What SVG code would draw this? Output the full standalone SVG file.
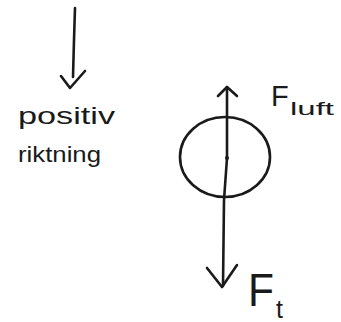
<svg xmlns="http://www.w3.org/2000/svg" width="341" height="322" viewBox="0 0 341 322">
<style>
.s{fill:none;stroke:#1a1a1a;stroke-width:2.6;stroke-linecap:round;stroke-linejoin:round}
.t{font-family:"Liberation Sans",Arial,sans-serif;fill:#1a1a1a}
</style>
<rect width="341" height="322" fill="#fff"/>
<g id="connectors">
<path class="s" d="M75,8 L74,40 L73,77"/>
<path class="s" d="M61,76 L70,88 L85,71"/>
<path class="s" d="M227,87 L227,158 L224,200 L223,286"/>
<path class="s" d="M218,96 L227,87 L237,96"/>
<path class="s" d="M207,268 L222,287 L237,265"/>
</g>
<g id="body">
<ellipse class="s" cx="225" cy="157" rx="45" ry="40"/>
<circle cx="227" cy="158" r="2" fill="#1a1a1a"/>
</g>
<g id="label-direction">
<text class="t" x="18" y="124" font-size="24" textLength="97" lengthAdjust="spacingAndGlyphs">positiv</text>
<text class="t" x="18" y="162" font-size="22" textLength="83" lengthAdjust="spacingAndGlyphs">riktning</text>
</g>
<g id="label-fluft">
<text class="t" x="271" y="106" font-size="29">F</text>
<text class="t" x="290" y="115" font-size="18" textLength="44" lengthAdjust="spacingAndGlyphs">luft</text>
</g>
<g id="label-ft">
<text class="t" x="248" y="306" font-size="46" textLength="26" lengthAdjust="spacingAndGlyphs">F</text>
<text class="t" x="276" y="318" font-size="25">t</text>
</g>
</svg>
